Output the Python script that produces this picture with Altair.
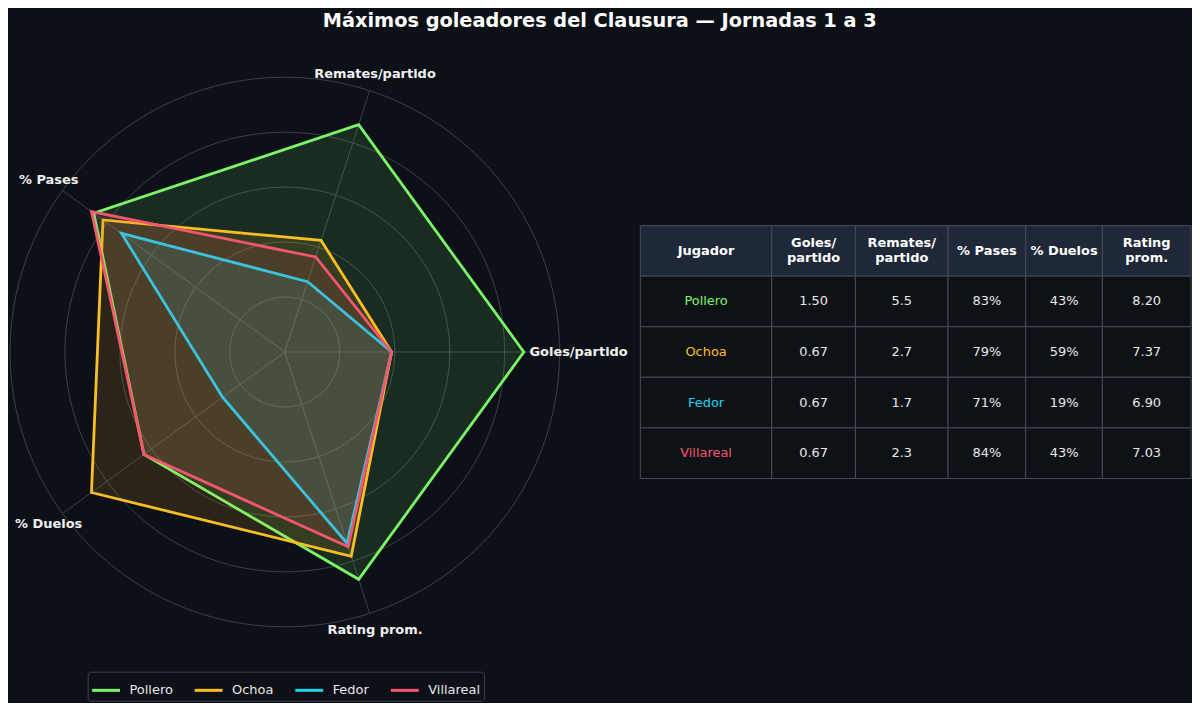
import math
import altair as alt
import pandas as pd

# ---------------- data ----------------
TITLE = "Máximos goleadores del Clausura — Jornadas 1 a 3"
players = ["Pollero", "Ochoa", "Fedor", "Villareal"]
colors = ["#7CF46A", "#FBBF24", "#22D3EE", "#F4566E"]
metrics = ["Goles/partido", "Remates/partido", "% Pases", "% Duelos", "Rating prom."]
goles = [1.50, 0.67, 0.67, 0.67]
remates = [5.5, 2.7, 1.7, 2.3]
pases = [83, 79, 71, 84]
duelos = [43, 59, 19, 43]
rating = [8.20, 7.37, 6.90, 7.03]
grid_levels = [0.2, 0.4, 0.6, 0.8, 1.0]
header_labels = ["Jugador", "Goles/\npartido", "Remates/\npartido", "% Pases", "% Duelos", "Rating\nprom."]

# ---------------- style / layout ----------------
BG = "#0d1117"
GRID = "#3a3f47"
FONT = "DejaVu Sans"
HEADROOM = 1.15
PX = 276.0            # pixels per radar unit
RW, RH = 620, 640     # radar panel
CX, CY = 277, 312     # radar centre inside panel
LABEL_R = [0.89, 1.062, 1.062, 1.062, 1.062]
col_widths = [132, 84, 93, 78, 77, 89]
ROW_PX = 50.8
TABLE_TOP = 185
SPACING = 11

series = [goles, remates, pases, duelos, rating]
angles = [i * 2 * math.pi / len(metrics) for i in range(len(metrics))]

# polygons
rows = []
for pi, p in enumerate(players):
    for k, vals in enumerate(series):
        r = vals[pi] / (max(vals) * HEADROOM)
        rows.append(dict(player=p, k=k, x=r * math.cos(angles[k]), y=r * math.sin(angles[k])))
poly = pd.DataFrame(rows)

# grid circles
grow = []
for lv in grid_levels:
    for j in range(120):
        a = j * 2 * math.pi / 120
        grow.append(dict(level=lv, j=j, x=lv * math.cos(a), y=lv * math.sin(a)))
grid = pd.DataFrame(grow)

# spokes
srow = []
for k, a in enumerate(angles):
    srow.append(dict(k=k, j=0, x=0.0, y=0.0))
    srow.append(dict(k=k, j=1, x=math.cos(a), y=math.sin(a)))
spokes = pd.DataFrame(srow)

# axis labels
lab = pd.DataFrame([
    dict(metric=m, k=k, x=LABEL_R[k] * math.cos(angles[k]), y=LABEL_R[k] * math.sin(angles[k]))
    for k, m in enumerate(metrics)
])

xs = alt.Scale(domain=[-CX / PX, (RW - CX) / PX], nice=False, zero=False)
ys = alt.Scale(domain=[-(RH - CY) / PX, CY / PX], nice=False, zero=False)
X = alt.X("x:Q", scale=xs, axis=None)
Y = alt.Y("y:Q", scale=ys, axis=None)
cscale = alt.Scale(domain=players, range=colors)

grid_layer = alt.Chart(grid).mark_line(interpolate="linear-closed", stroke=GRID, strokeWidth=1).encode(
    x=X, y=Y, detail="level:N", order="j:Q")
spoke_layer = alt.Chart(spokes).mark_line(stroke=GRID, strokeWidth=1).encode(
    x=X, y=Y, detail="k:N", order="j:Q")

player_layers = []
for i, p in enumerate(players):
    leg = None
    if i == 0:
        leg = alt.Legend(orient="none", legendX=79, legendY=633, direction="horizontal",
                         columns=4, title=None, symbolType="stroke", symbolSize=784,
                         symbolStrokeWidth=3, labelColor="#e6e6e6", labelFontSize=13,
                         labelFont=FONT, padding=3, strokeColor="#3a4049", fillColor=BG,
                         cornerRadius=3, columnPadding=15, labelOffset=8)
    layer = alt.Chart(poly[poly.player == p]).mark_line(
        interpolate="linear-closed", fill=colors[i], fillOpacity=0.12, strokeWidth=2.8
    ).encode(
        x=X, y=Y, order="k:Q",
        color=alt.Color("player:N", scale=cscale, legend=leg),
    )
    player_layers.append(layer)

lab_left = alt.Chart(lab[lab.k == 0]).mark_text(
    align="left", baseline="middle", font=FONT, fontWeight="bold", fontSize=13, color="#f0f0f0"
).encode(x=X, y=Y, text="metric:N")
lab_center = alt.Chart(lab[lab.k != 0]).mark_text(
    align="center", baseline="middle", font=FONT, fontWeight="bold", fontSize=13, color="#f0f0f0"
).encode(x=X, y=Y, text="metric:N")

radar = alt.layer(grid_layer, spoke_layer, *player_layers, lab_left, lab_center).properties(
    width=RW, height=RH)

# ---------------- table ----------------
edges = [0]
for w in col_widths:
    edges.append(edges[-1] + w)
TW = edges[-1]

fmt = [
    lambda i: players[i],
    lambda i: f"{goles[i]:.2f}",
    lambda i: f"{remates[i]:.1f}",
    lambda i: f"{pases[i]:.0f}%",
    lambda i: f"{duelos[i]:.0f}%",
    lambda i: f"{rating[i]:.2f}",
]
cells = []
for c in range(len(col_widths)):
    cells.append(dict(row=0, col=c, x0=edges[c], x1=edges[c + 1], y0=0, y1=1,
                      xc=(edges[c] + edges[c + 1]) / 2, yc=0.5, text=header_labels[c],
                      kind="header2" if "\n" in header_labels[c] else "header1", player=""))
for r, p in enumerate(players):
    for c in range(len(col_widths)):
        cells.append(dict(row=r + 1, col=c, x0=edges[c], x1=edges[c + 1], y0=r + 1, y1=r + 2,
                          xc=(edges[c] + edges[c + 1]) / 2, yc=r + 1.5, text=fmt[c](r),
                          kind="name" if c == 0 else "num", player=p))
tab = pd.DataFrame(cells)

TH = RH
txs = alt.Scale(domain=[0, TW], nice=False, zero=False)
tys = alt.Scale(domain=[-TABLE_TOP / ROW_PX, (TH - TABLE_TOP) / ROW_PX], nice=False, zero=False, reverse=True)
TX0 = alt.X("x0:Q", scale=txs, axis=None)
TY0 = alt.Y("y0:Q", scale=tys, axis=None)
TXC = alt.X("xc:Q", scale=txs, axis=None)
TYC = alt.Y("yc:Q", scale=tys, axis=None)

base = alt.Chart(tab)
is_header = (alt.datum.kind == "header1") | (alt.datum.kind == "header2")
hdr_rect = base.transform_filter(is_header).mark_rect(
    fill="#1f2838", stroke="#474d56", strokeWidth=1
).encode(x=TX0, x2="x1:Q", y=TY0, y2="y1:Q")
body_rect = base.transform_filter(~is_header).mark_rect(
    fill="#0e1217", stroke="#474d56", strokeWidth=1
).encode(x=TX0, x2="x1:Q", y=TY0, y2="y1:Q")
hdr_text1 = base.transform_filter(alt.datum.kind == "header1").mark_text(
    font=FONT, fontWeight="bold", fontSize=13, color="#ffffff", baseline="middle"
).encode(x=TXC, y=TYC, text="text:N")
hdr_text2 = base.transform_filter(alt.datum.kind == "header2").mark_text(
    font=FONT, fontWeight="bold", fontSize=13, color="#ffffff", lineBreak="\n",
    lineHeight=15, baseline="middle", dy=-7.5
).encode(x=TXC, y=TYC, text="text:N")
num_text = base.transform_filter(alt.datum.kind == "num").mark_text(
    font=FONT, fontSize=13, color="#e8e8e8", baseline="middle"
).encode(x=TXC, y=TYC, text="text:N")
name_text = base.transform_filter(alt.datum.kind == "name").mark_text(
    font=FONT, fontSize=13, baseline="middle"
).encode(x=TXC, y=TYC, text="text:N",
         color=alt.Color("player:N", scale=cscale, legend=None))

table = alt.layer(hdr_rect, body_rect, hdr_text1, hdr_text2, num_text, name_text).properties(
    width=TW, height=TH)

chart = alt.hconcat(radar, table, spacing=SPACING).resolve_scale(
    color="independent", x="independent", y="independent"
).properties(
    title=alt.TitleParams(TITLE, anchor="middle", fontSize=19.4, font=FONT, fontWeight="bold",
                          color="#ffffff", offset=10),
    background=BG,
    padding={"top": 1, "left": 0, "right": 0, "bottom": 0},
).configure_view(stroke=None)

chart.save("out.html", embed_options={"renderer": "svg", "actions": False})
